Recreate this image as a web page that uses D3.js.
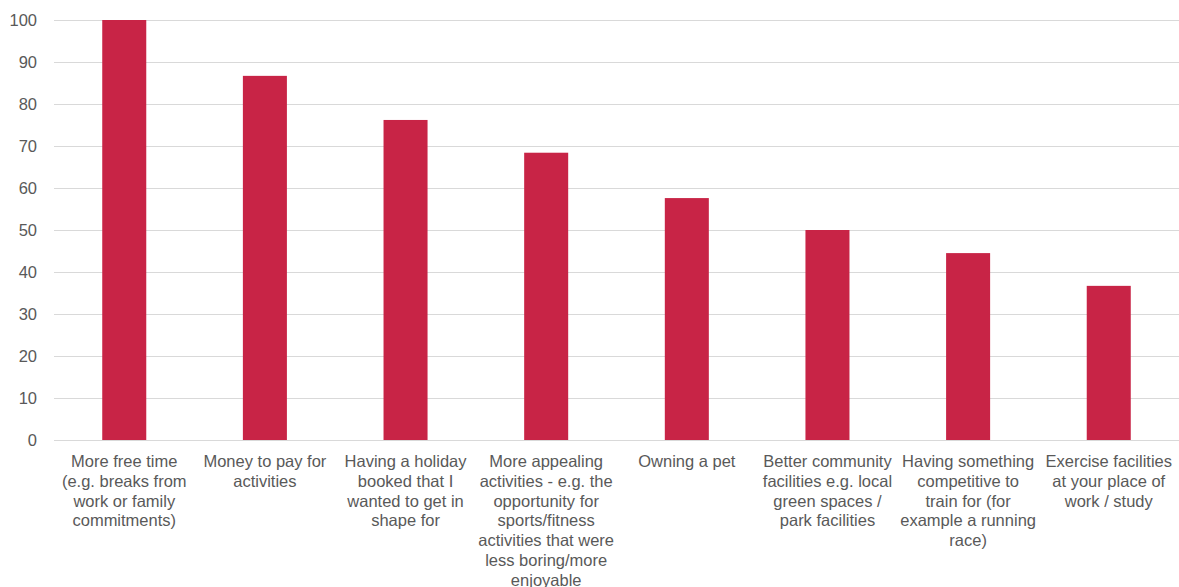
<!DOCTYPE html>
<html>
<head>
<meta charset="utf-8">
<script src="https://cdn.jsdelivr.net/npm/d3@7"></script>
<style>
  body { margin: 0; background: #fff; }
  text { font-family: "Liberation Sans", Arial, sans-serif; }
</style>
</head>
<body>
<script>
// chart data
const categories = [
  'More free time\n(e.g. breaks from\nwork or family\ncommitments)',
  'Money to pay for\nactivities',
  'Having a holiday\nbooked that I\nwanted to get in\nshape for',
  'More appealing\nactivities - e.g. the\nopportunity for\nsports/fitness\nactivities that were\nless boring/more\nenjoyable',
  'Owning a pet',
  'Better community\nfacilities e.g. local\ngreen spaces /\npark facilities',
  'Having something\ncompetitive to\ntrain for (for\nexample a running\nrace)',
  'Exercise facilities\nat your place of\nwork / study'
];
const values = [100, 86.7, 76.2, 68.4, 57.6, 50.0, 44.5, 36.7];
const yTicks = [0, 10, 20, 30, 40, 50, 60, 70, 80, 90, 100];

const width = 1179;
const height = 587;
const margin = { top: 20, right: 0, bottom: 147, left: 54 };

const svg = d3.select('body').append('svg')
  .attr('width', width)
  .attr('height', height);

const x = d3.scaleBand()
  .domain(categories)
  .range([margin.left, width - margin.right])
  .paddingInner(0.687)
  .paddingOuter(0.343);

const y = d3.scaleLinear()
  .domain([0, 100])
  .range([height - margin.bottom, margin.top]);

// gridlines
svg.append('g')
  .selectAll('line')
  .data(yTicks)
  .enter().append('line')
  .attr('x1', margin.left)
  .attr('x2', width - margin.right)
  .attr('y1', d => Math.round(y(d)) + 0.5)
  .attr('y2', d => Math.round(y(d)) + 0.5)
  .attr('stroke', '#d9d9d9')
  .attr('stroke-width', 1);

// y tick labels
svg.append('g')
  .selectAll('text')
  .data(yTicks)
  .enter().append('text')
  .attr('x', 37)
  .attr('y', d => y(d))
  .attr('dy', '0.35em')
  .attr('text-anchor', 'end')
  .attr('fill', '#595959')
  .style('font-size', '16.5px')
  .text(d => d);

// bars
svg.append('g')
  .selectAll('rect')
  .data(values)
  .enter().append('rect')
  .attr('x', (d, i) => x(categories[i]))
  .attr('y', d => y(d))
  .attr('width', x.bandwidth())
  .attr('height', d => y(0) - y(d))
  .attr('fill', '#c82446');

// category labels
const labels = svg.append('g')
  .selectAll('text')
  .data(categories)
  .enter().append('text')
  .attr('text-anchor', 'middle')
  .attr('fill', '#595959')
  .style('font-size', '16.5px')
  .attr('transform', d => `translate(${x(d) + x.bandwidth() / 2},${y(0) + 27})`);

labels.selectAll('tspan')
  .data(d => d.split('\n'))
  .enter().append('tspan')
  .attr('x', 0)
  .attr('y', (d, i) => i * 19.8)
  .text(d => d);
</script>
</body>
</html>
